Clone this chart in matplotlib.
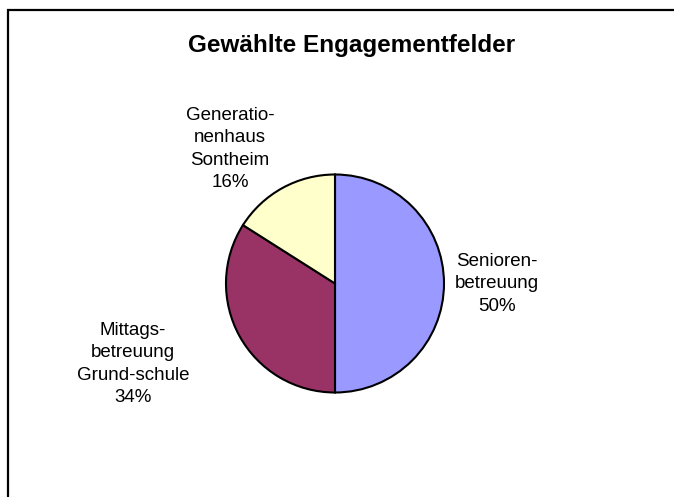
import matplotlib
matplotlib.use("Agg")
import matplotlib.pyplot as plt

title = "Gewählte Engagementfelder"
categories = ["Senioren-\nbetreuung", "Mittags-\nbetreuung\nGrund-schule", "Generatio-\nnenhaus\nSontheim"]
values = [50, 34, 16]
colors = ["#9999FF", "#993366", "#FFFFCC"]

W, H = 674, 497
plt.rcParams["font.family"] = ["Liberation Sans", "DejaVu Sans"]
fig = plt.figure(figsize=(W / 100, H / 100), dpi=100)
ax = fig.add_axes([0, 0, 1, 1])

def Y(py):
    return H - py

cx, cy, r = 335, 283.5, 109
ax.pie(values, colors=colors, startangle=90, counterclock=False,
       center=(cx, Y(cy)), radius=r,
       wedgeprops=dict(edgecolor="black", linewidth=1.5))
ax.set_xlim(0, W)
ax.set_ylim(0, H)
ax.set_aspect("equal")
ax.axis("off")

# label centers (pixels from top-left)
label_pos = [(497, 284), (133, 364), (230, 149)]
total = sum(values)
for cat, v, (x, y) in zip(categories, values, label_pos):
    ax.text(x, Y(y), f"{cat}\n{round(100 * v / total)}%", ha="center", va="center",
            fontsize=13.5, linespacing=1.4)

ax.text(352, Y(52), title, ha="center", va="baseline", fontsize=17.5, fontweight="bold")

ax.plot([7.5, 7.5, W], [0, Y(9.5), Y(9.5)], color="black", linewidth=1.6,
        solid_joinstyle="miter", clip_on=False)

fig.savefig("out.png", dpi=100)
